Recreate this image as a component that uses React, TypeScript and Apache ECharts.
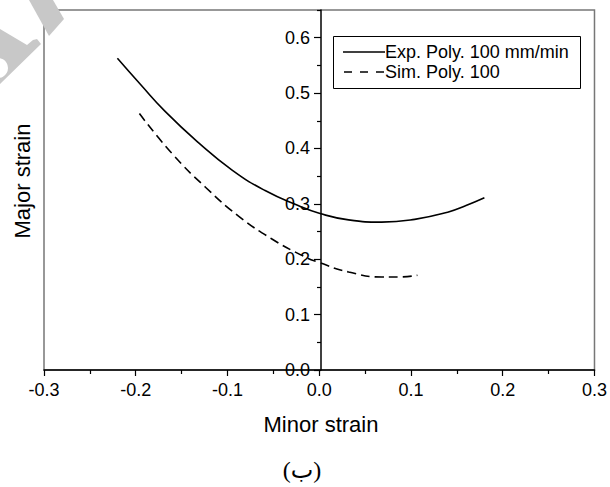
import React, { useEffect, useRef } from "react";
import * as echarts from "echarts";

const expX = [-0.22, -0.195, -0.168, -0.132, -0.095, -0.059, -0.023, 0, 0.032, 0.068, 0.104, 0.14, 0.16, 0.18];
const expY = [0.563, 0.516, 0.467, 0.411, 0.361, 0.324, 0.297, 0.283, 0.271, 0.267, 0.272, 0.285, 0.297, 0.311];
const simX = [-0.196, -0.16, -0.124, -0.088, -0.052, -0.019, 0, 0.032, 0.068, 0.086, 0.107];
const simY = [0.463, 0.390, 0.330, 0.278, 0.237, 0.207, 0.194, 0.177, 0.168, 0.168, 0.171];
const seriesNames = ["Exp. Poly. 100 mm/min", "Sim. Poly. 100"];
const xTicks = [-0.3, -0.2, -0.1, 0, 0.1, 0.2, 0.3];
const yTicks = [0, 0.1, 0.2, 0.3, 0.4, 0.5, 0.6];
const xTitle = "Minor strain";
const yTitle = "Major strain";
const caption = "(ب)";

const FONT = "'Liberation Sans', Arial, sans-serif";

export default function App() {
  const ref = useRef<HTMLDivElement>(null);
  useEffect(() => {
    if (!ref.current) return;
    const chart = echarts.init(ref.current, null, { renderer: "svg" });
    const pair = (xs: number[], ys: number[]) => xs.map((x, i) => [x, ys[i]]);
    const fmt = (v: number) => {
      const r = Math.round(v * 10) / 10;
      return Math.abs(v - r) < 1e-6 ? r.toFixed(1) : "";
    };
    const tickStyle = { color: "#000", width: 1.2 };
    chart.setOption({
      animation: false,
      grid: [
        {
          left: 44,
          right: 14,
          top: 10,
          bottom: 117,
          show: true,
          borderColor: "#777",
          borderWidth: 1.5,
        },
        // right half: holds the y axis drawn at x = 0
        { left: 321, right: 14, top: 10, bottom: 117, show: false },
      ],
      xAxis: [
        {
          type: "value",
          gridIndex: 0,
          min: -0.3,
          max: 0.3,
          interval: 0.1,
          splitLine: { show: false },
          axisLine: { onZero: true, lineStyle: { color: "#000", width: 1.5 } },
          axisTick: { length: 6, lineStyle: tickStyle, customValues: xTicks },
          minorTick: { show: true, splitNumber: 2, length: 4, lineStyle: tickStyle },
          axisLabel: {
            margin: 11,
            color: "#000",
            fontSize: 18,
            fontFamily: FONT,
            customValues: xTicks,
            formatter: (v: number) => fmt(v),
            showMinLabel: true,
            showMaxLabel: true,
          },
        },
        { type: "value", gridIndex: 1, min: 0, max: 0.3, show: false },
      ],
      yAxis: [
        {
          type: "value",
          gridIndex: 0,
          min: 0,
          max: 0.65,
          show: false,
        },
        {
          type: "value",
          gridIndex: 1,
          position: "left",
          min: 0,
          max: 0.65,
          interval: 0.1,
          splitLine: { show: false },
          axisLine: { show: true, onZero: false, lineStyle: { color: "#000", width: 1.5 } },
          axisTick: { show: true, length: 7, lineStyle: tickStyle, customValues: yTicks },
          minorTick: { show: true, splitNumber: 2, length: 4, lineStyle: tickStyle },
          axisLabel: {
            margin: 11,
            color: "#000",
            fontSize: 18,
            fontFamily: FONT,
            customValues: yTicks,
            formatter: (v: number) => fmt(v),
          },
        },
      ],
      series: [
        {
          name: seriesNames[0],
          type: "line",
          xAxisIndex: 0,
          yAxisIndex: 0,
          data: pair(expX, expY),
          showSymbol: false,
          smooth: 0.5,
          lineStyle: { color: "#000", width: 1.6 },
        },
        {
          name: seriesNames[1],
          type: "line",
          xAxisIndex: 0,
          yAxisIndex: 0,
          data: pair(simX, simY),
          showSymbol: false,
          smooth: 0.5,
          lineStyle: { color: "#000", width: 1.6, type: [9, 5] },
        },
      ],
      graphic: [
        {
          type: "polygon",
          shape: { points: [[29, 0], [53, 0], [64, 19], [49, 36]] },
          style: { fill: "#c8c8c8" },
          silent: true,
        },
        {
          type: "polygon",
          shape: { points: [[0, 29], [27, 45], [33, 40], [37, 39], [41, 44], [0, 84]] },
          style: { fill: "#c8c8c8" },
          silent: true,
        },
        {
          type: "circle",
          shape: { cx: -2, cy: 68, r: 10 },
          style: { fill: "#fff" },
          silent: true,
        },
        {
          type: "rect",
          shape: { x: 333.5, y: 36.5, width: 247, height: 52 },
          style: { fill: "#fff", stroke: "#000", lineWidth: 1 },
          z: 10,
        },
        {
          type: "line",
          shape: { x1: 343, y1: 52, x2: 385, y2: 52 },
          style: { stroke: "#000", lineWidth: 1.6 },
          z: 11,
        },
        {
          type: "line",
          shape: { x1: 344, y1: 72, x2: 385, y2: 72 },
          style: { stroke: "#000", lineWidth: 1.6, lineDash: [8, 8] },
          z: 11,
        },
        {
          type: "text",
          x: 385,
          y: 52,
          style: { text: seriesNames[0], font: `18px ${FONT}`, fill: "#000", verticalAlign: "middle", align: "left" },
          z: 11,
        },
        {
          type: "text",
          x: 385,
          y: 72,
          style: { text: seriesNames[1], font: `18px ${FONT}`, fill: "#000", verticalAlign: "middle", align: "left" },
          z: 11,
        },
        {
          type: "text",
          x: 321,
          y: 424,
          style: { text: xTitle, font: `22px ${FONT}`, fill: "#000", verticalAlign: "middle", align: "center" },
        },
        {
          type: "text",
          x: 22,
          y: 181,
          rotation: Math.PI / 2,
          style: { text: yTitle, font: `22px ${FONT}`, fill: "#000", verticalAlign: "middle", align: "center" },
        },
        {
          type: "text",
          x: 302,
          y: 470,
          style: { text: caption, font: `24px 'Liberation Serif', 'DejaVu Sans', serif`, fill: "#000", verticalAlign: "middle", align: "center" },
        },
      ],
    });
    return () => chart.dispose();
  }, []);
  return <div ref={ref} style={{ width: 610, height: 487, position: "absolute", left: 0, top: 0 }} />;
}
